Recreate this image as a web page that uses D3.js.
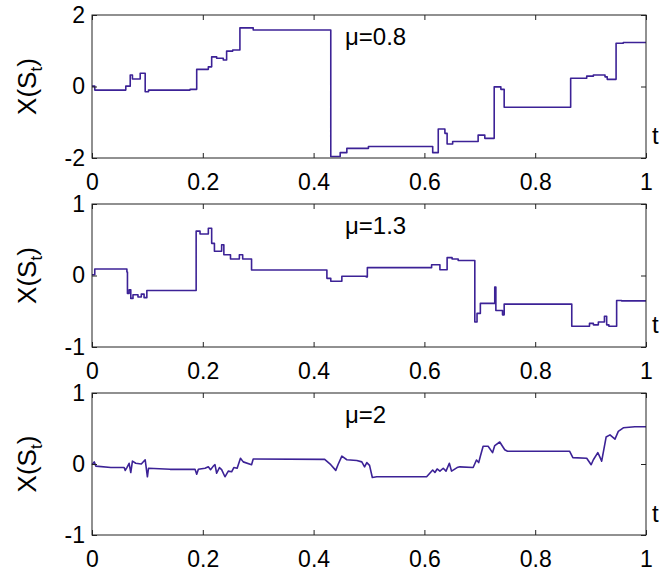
<!DOCTYPE html>
<html>
<head>
<meta charset="utf-8">
<script src="https://cdn.jsdelivr.net/npm/d3@7"></script>
<style>
  body { margin: 0; background: #fff; }
  text { font-family: "Liberation Sans", Arial, Helvetica, sans-serif; fill: #000; }
</style>
</head>
<body>
<div id="svg-container"></div>
<script>
// ---- data: [t, X(S_t)] ----
var muLabels = ["\u03bc=0.8", "\u03bc=1.3", "\u03bc=2"];
var xTicks = [0, 0.2, 0.4, 0.6, 0.8, 1];
var yTicks1 = [-2, 0, 2];
var yTicks23 = [-1, 0, 1];

var path08 = [
  [0, 0.01], [0.005, -0.10], [0.060, -0.10], [0.061, 0.01], [0.069, 0.32], [0.073, 0.21],
  [0.087, 0.37], [0.096, -0.145], [0.102, -0.10], [0.177, -0.08], [0.189, 0.48], [0.210, 0.55],
  [0.216, 0.83], [0.225, 0.79], [0.237, 0.74], [0.243, 0.99], [0.254, 1.02], [0.267, 1.64],
  [0.291, 1.58], [0.431, -1.96], [0.448, -1.85], [0.460, -1.73], [0.499, -1.68], [0.615, -1.85],
  [0.625, -1.19], [0.637, -1.31], [0.641, -1.61], [0.651, -1.54], [0.697, -1.36], [0.709, -1.45],
  [0.726, -0.01], [0.738, -0.08], [0.744, -0.58], [0.864, 0.23], [0.893, 0.29], [0.905, 0.32],
  [0.926, 0.27], [0.930, 0.20], [0.946, 1.21], [0.959, 1.23], [1, 1.23]
];

var path13 = [
  [0, 0.01], [0.005, 0.09], [0.063, 0.05], [0.064, -0.25], [0.067, -0.20], [0.070, -0.32],
  [0.074, -0.27], [0.083, -0.30], [0.089, -0.26], [0.094, -0.31], [0.099, -0.21], [0.188, 0.62],
  [0.195, 0.58], [0.210, 0.66], [0.216, 0.45], [0.221, 0.34], [0.234, 0.43], [0.238, 0.29],
  [0.250, 0.23], [0.266, 0.29], [0.272, 0.23], [0.288, 0.077], [0.424, -0.04], [0.431, -0.08],
  [0.451, -0.01], [0.495, -0.02], [0.497, 0.11], [0.613, 0.15], [0.628, 0.08], [0.641, 0.25],
  [0.650, 0.23], [0.661, 0.21], [0.691, -0.65], [0.695, -0.53], [0.701, -0.39], [0.727, -0.16],
  [0.729, -0.49], [0.741, -0.55], [0.744, -0.40], [0.866, -0.71], [0.898, -0.67], [0.905, -0.69],
  [0.914, -0.65], [0.925, -0.57], [0.929, -0.69], [0.933, -0.71], [0.947, -0.35], [0.956, -0.355],
  [1, -0.355]
];

var path2 = [
  [0, -0.01], [0.004, 0.03], [0.007, -0.03], [0.034, -0.05], [0.058, -0.05], [0.060, -0.09], [0.063, -0.05],
  [0.067, 0.01], [0.070, -0.12], [0.073, 0.04], [0.079, 0.01], [0.089, 0.00], [0.096, 0.06],
  [0.100, -0.18], [0.102, -0.06], [0.141, -0.075], [0.186, -0.075], [0.189, -0.145], [0.192, -0.075],
  [0.204, -0.06], [0.210, -0.04], [0.214, -0.08], [0.219, -0.03], [0.222, -0.01], [0.225, -0.13],
  [0.230, -0.05], [0.234, -0.08], [0.240, -0.18], [0.246, -0.10], [0.252, -0.11], [0.256, -0.05],
  [0.262, -0.06], [0.268, 0.08], [0.273, 0.03], [0.288, -0.01], [0.291, 0.07], [0.420, 0.065],
  [0.431, -0.01], [0.440, -0.09], [0.444, -0.01], [0.451, 0.11], [0.460, 0.06], [0.478, 0.05],
  [0.487, 0.03], [0.492, -0.04], [0.496, 0.02], [0.501, -0.02], [0.506, -0.19], [0.514, -0.18],
  [0.604, -0.18], [0.615, -0.085], [0.619, -0.12], [0.623, -0.07], [0.628, -0.10], [0.634, -0.06],
  [0.639, -0.10], [0.645, 0.01], [0.649, -0.10], [0.659, -0.05], [0.664, -0.04], [0.688, -0.05],
  [0.694, 0.056], [0.698, 0.02], [0.701, 0.11], [0.706, 0.25], [0.715, 0.25], [0.723, 0.16],
  [0.727, 0.26], [0.736, 0.31], [0.745, 0.20], [0.750, 0.18], [0.862, 0.18], [0.868, 0.09],
  [0.893, 0.08], [0.901, -0.01], [0.905, 0.06], [0.913, 0.16], [0.916, 0.11], [0.920, 0.04], [0.928, 0.38],
  [0.935, 0.41], [0.944, 0.35], [0.950, 0.46], [0.959, 0.51], [0.980, 0.525], [1, 0.525]
];

var panels = [
  { data: path08, label: muLabels[0], top: 15,  bottom: 158, dom: [-2, 2], ticks: yTicks1,  curve: d3.curveStepAfter },
  { data: path13, label: muLabels[1], top: 204, bottom: 347, dom: [-1, 1], ticks: yTicks23, curve: d3.curveStepAfter },
  { data: path2,  label: muLabels[2], top: 393, bottom: 535, dom: [-1, 1], ticks: yTicks23, curve: d3.curveLinear }
];

var W = 662, H = 574;
var left = 92, right = 646;
var lineColor = "#3c2296";

var svg = d3.select("#svg-container").append("svg")
  .attr("width", W)
  .attr("height", H);

var xScale = d3.scaleLinear().domain([0, 1]).range([left, right]);

// plain hyphen minus like the original
function fmtNum(d) { return String(d); }

panels.forEach(function(p) {
  var yScale = d3.scaleLinear().domain(p.dom).range([p.bottom, p.top]);
  var g = svg.append("g");

  // data line
  var track = d3.line()
    .x(function(d){ return xScale(d[0]) })
    .y(function(d){ return yScale(d[1]) })
    .curve(p.curve);

  g.append("path")
    .datum(p.data)
    .attr("d", track)
    .attr("fill", "none")
    .attr("stroke", lineColor)
    .attr("stroke-width", 1.6)
    .attr("stroke-linejoin", "round");

  // bottom axis (inward ticks, labels)
  var xAxis = d3.axisBottom(xScale)
    .tickValues(xTicks)
    .tickFormat(fmtNum)
    .tickSizeInner(-5)
    .tickSizeOuter(0)
    .tickPadding(16);
  var gx = g.append("g").attr("transform", "translate(0," + p.bottom + ")").call(xAxis);

  // top ticks
  var gxt = g.append("g").attr("transform", "translate(0," + p.top + ")")
    .call(d3.axisTop(xScale).tickValues(xTicks).tickSizeInner(-5).tickSizeOuter(0).tickFormat(""));

  // left axis
  var yAxis = d3.axisLeft(yScale)
    .tickValues(p.ticks)
    .tickFormat(fmtNum)
    .tickSizeInner(-5)
    .tickSizeOuter(0)
    .tickPadding(7);
  var gy = g.append("g").attr("transform", "translate(" + left + ",0)").call(yAxis);

  // right ticks
  var gyr = g.append("g").attr("transform", "translate(" + right + ",0)")
    .call(d3.axisRight(yScale).tickValues(p.ticks).tickSizeInner(-5).tickSizeOuter(0).tickFormat(""));

  [gx, gxt, gy, gyr].forEach(function(a) {
    a.select(".domain").remove();
    a.selectAll("line").attr("stroke", "#222").attr("stroke-width", 1);
    a.selectAll("text")
      .style("font-family", '"Liberation Sans", Arial, sans-serif')
      .style("font-size", "23px")
      .attr("fill", "#000");
  });

  // box
  g.append("rect")
    .attr("x", left)
    .attr("y", p.top)
    .attr("width", right - left)
    .attr("height", p.bottom - p.top)
    .attr("fill", "none")
    .attr("stroke", "#222")
    .attr("stroke-width", 1);

  // mu label
  g.append("text")
    .attr("x", 345)
    .attr("y", p.top + 30)
    .style("font-size", "24px")
    .text(p.label);

  // t label
  g.append("text")
    .attr("x", 652)
    .attr("y", p.top + 129)
    .style("font-size", "24px")
    .text("t");

  // y label X(S_t)
  var yl = g.append("text")
    .attr("transform", "translate(36," + ((p.top + p.bottom) / 2) + ") rotate(-90)")
    .attr("text-anchor", "middle")
    .style("font-size", "26px");
  yl.append("tspan").text("X(S");
  yl.append("tspan").attr("dy", 6).style("font-size", "17px").text("t");
  yl.append("tspan").attr("dy", -6).text(")");
});
</script>
</body>
</html>
